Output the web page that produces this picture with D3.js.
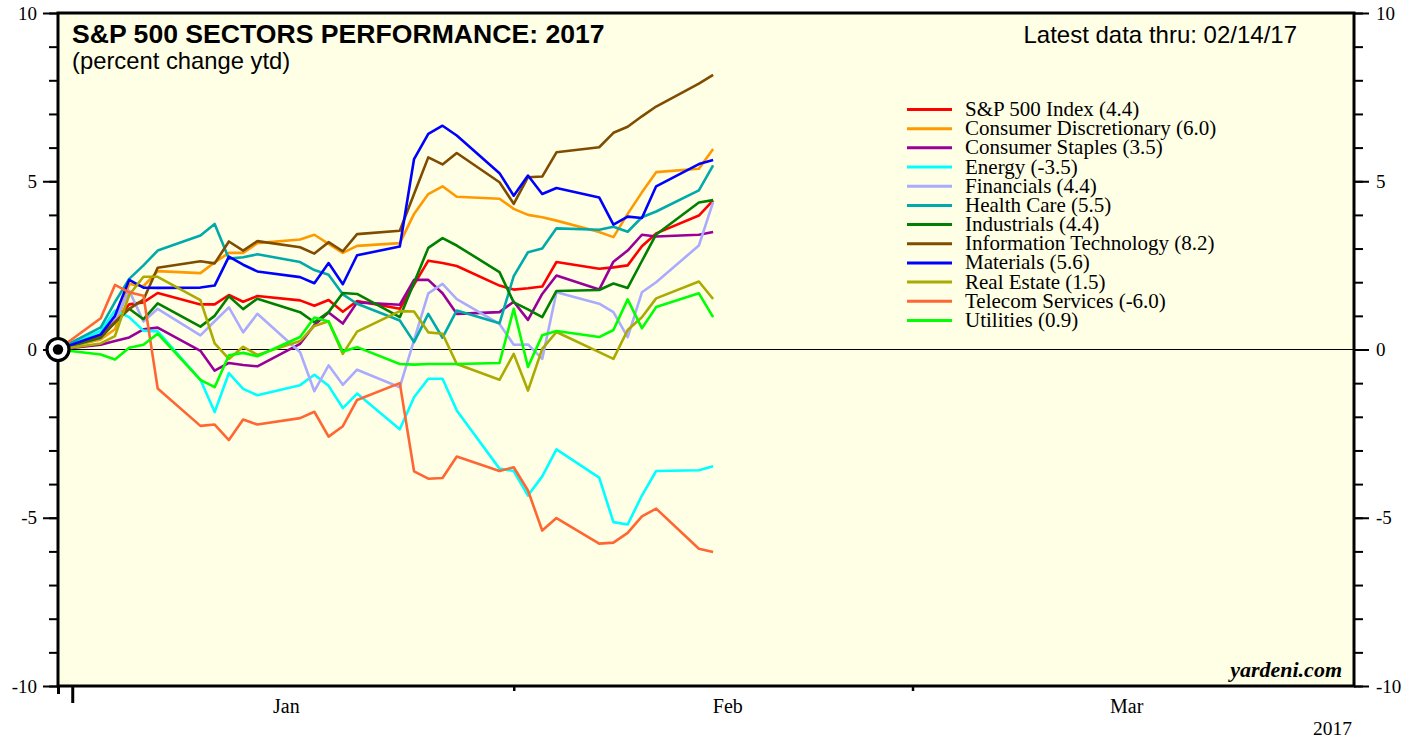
<!DOCTYPE html>
<html>
<head>
<meta charset="utf-8">
<script src="https://cdn.jsdelivr.net/npm/d3@7"></script>
<style>
  body { margin: 0; background: #ffffff; }
  svg { display: block; }
</style>
</head>
<body>
<svg id="chart" width="1419" height="740"></svg>
<script>
// ---------------- DATA ----------------
const dates = ["2016-12-30","2017-01-02","2017-01-03","2017-01-04","2017-01-05","2017-01-06",
  "2017-01-09","2017-01-10","2017-01-11","2017-01-12","2017-01-13",
  "2017-01-16","2017-01-17","2017-01-18","2017-01-19","2017-01-20",
  "2017-01-23","2017-01-24","2017-01-25","2017-01-26","2017-01-27",
  "2017-01-30","2017-01-31","2017-02-01","2017-02-02","2017-02-03",
  "2017-02-06","2017-02-07","2017-02-08","2017-02-09","2017-02-10",
  "2017-02-13","2017-02-14"];

const sp500 = [0, 0.35, 0.85, 1.34, 1.4, 1.68, 1.34, 1.34, 1.62, 1.42, 1.59, 1.46, 1.3, 1.47, 1.12, 1.44, 1.21, 1.93, 2.64, 2.57, 2.48, 1.9, 1.78, 1.82, 1.87, 2.6, 2.4, 2.44, 2.5, 3.07, 3.45, 3.98, 4.43];
const consumerDiscretionary = [0, 0.3, 0.6, 1.95, 1.88, 2.33, 2.27, 2.59, 2.87, 2.87, 3.16, 3.27, 3.41, 3.14, 2.87, 3.08, 3.16, 4.03, 4.62, 4.85, 4.54, 4.48, 4.18, 4.0, 3.93, 3.83, 3.49, 3.34, 4.03, 4.67, 5.27, 5.37, 5.96];
const consumerStaples = [0, 0.14, 0.25, 0.36, 0.6, 0.65, -0.04, -0.63, -0.4, -0.46, -0.5, 0.17, 0.73, 1.1, 0.77, 1.4, 1.33, 2.07, 2.07, 1.67, 1.06, 1.11, 1.42, 0.88, 1.65, 2.2, 1.78, 2.61, 2.94, 3.41, 3.36, 3.41, 3.49];
const energy = [0, 0.55, 1.16, 0.96, 0.56, 0.54, -0.9, -1.86, -0.7, -1.17, -1.36, -1.06, -0.75, -1.08, -1.74, -1.31, -2.37, -1.42, -0.87, -0.87, -1.81, -3.54, -3.61, -4.34, -3.77, -2.97, -3.81, -5.13, -5.2, -4.34, -3.61, -3.59, -3.47];
const financials = [0, 0.35, 0.86, 1.75, 0.83, 1.21, 0.42, 0.84, 1.25, 0.51, 1.06, -0.08, -1.24, -0.47, -1.05, -0.6, -1.12, 0.28, 1.67, 1.95, 1.5, 0.76, 0.14, 0.15, -0.28, 1.7, 1.36, 1.11, 0.37, 1.7, 2.0, 3.09, 4.38];
const healthCare = [0, 0.66, 1.41, 2.1, 2.5, 2.94, 3.39, 3.73, 2.7, 2.74, 2.83, 2.6, 2.36, 2.22, 1.64, 1.36, 0.86, 0.22, 1.06, 0.35, 1.16, 0.78, 2.18, 2.89, 3.0, 3.6, 3.56, 3.65, 3.5, 3.93, 4.1, 4.73, 5.47];
const industrials = [0, 0.35, 0.8, 1.21, 0.9, 1.37, 0.68, 1.0, 1.58, 1.2, 1.51, 1.11, 0.81, 1.11, 1.68, 1.65, 0.96, 1.98, 3.02, 3.31, 3.09, 2.3, 1.4, 1.19, 0.96, 1.74, 1.77, 1.96, 1.83, 2.63, 3.42, 4.37, 4.44];
const infoTech = [0, 0.4, 0.82, 1.21, 1.48, 2.43, 2.62, 2.56, 3.21, 2.94, 3.22, 3.04, 2.85, 3.19, 2.92, 3.43, 3.53, 4.62, 5.71, 5.5, 5.84, 4.97, 4.33, 5.12, 5.14, 5.86, 6.01, 6.44, 6.62, 6.93, 7.22, 7.9, 8.16];
const materials = [0, 0.45, 1.0, 2.07, 1.84, 1.83, 1.84, 1.9, 2.76, 2.52, 2.32, 2.15, 1.97, 2.57, 1.94, 2.8, 3.06, 5.66, 6.41, 6.65, 6.36, 5.24, 4.57, 5.17, 4.62, 4.8, 4.52, 3.71, 3.95, 3.91, 4.85, 5.51, 5.63];
const realEstate = [0, 0.18, 0.4, 1.62, 2.16, 2.16, 1.47, 0.18, -0.28, 0.08, -0.16, 0.25, 0.7, 0.84, -0.13, 0.53, 1.14, 1.13, 0.51, 0.47, -0.43, -0.9, -0.13, -1.22, 0.02, 0.52, -0.08, -0.28, 0.58, 0.96, 1.52, 2.02, 1.5];
const telecom = [0, 0.93, 1.92, 1.7, 1.6, -1.16, -2.27, -2.23, -2.69, -2.08, -2.23, -2.04, -1.85, -2.59, -2.28, -1.5, -1.0, -3.62, -3.84, -3.82, -3.18, -3.61, -3.5, -4.19, -5.38, -5.01, -5.77, -5.74, -5.45, -4.96, -4.73, -5.92, -6.02];
const utilities = [0, -0.15, -0.3, 0.05, 0.14, 0.47, -0.9, -1.12, -0.17, -0.1, -0.2, 0.37, 0.95, 0.83, -0.06, 0.07, -0.43, -0.45, -0.43, -0.43, -0.43, -0.4, 1.21, -0.52, 0.42, 0.55, 0.37, 0.58, 1.49, 0.63, 1.26, 1.67, 0.96];

const legendLabels = ["S&P 500 Index (4.4)", "Consumer Discretionary (6.0)", "Consumer Staples (3.5)",
  "Energy (-3.5)", "Financials (4.4)", "Health Care (5.5)", "Industrials (4.4)",
  "Information Technology (8.2)", "Materials (5.6)", "Real Estate (1.5)",
  "Telecom Services (-6.0)", "Utilities (0.9)"];
const seriesValues = [sp500, consumerDiscretionary, consumerStaples, energy, financials, healthCare,
  industrials, infoTech, materials, realEstate, telecom, utilities];

const yMajorTicks = [-10, -5, 0, 5, 10];
const monthLabels = ["Jan", "Feb", "Mar"];
const monthLabelDates = ["2017-01-15", "2017-02-15", "2017-03-15"];
const monthTickDates = ["2017-01-31", "2017-02-28"];
const yearTickDate = "2016-12-31";
const domainDates = ["2016-12-30", "2017-03-31"];

// ---------------- STYLE ----------------
const colors = ["#ff0000", "#ff9900", "#990099", "#00ffff", "#aaaaff", "#00aaaa",
  "#008000", "#7f4c00", "#0000ff", "#aaaa00", "#ff6633", "#00ff00"];

const L = 58, R = 1354, T = 13, B = 686;
const serif = "'Liberation Serif','Times New Roman',Times,serif";
const sans = "'Liberation Sans',Arial,Helvetica,sans-serif";

const parse = d3.utcParse("%Y-%m-%d");
const dts = dates.map(parse);

const svg = d3.select("#chart");

const x = d3.scaleUtc().domain(domainDates.map(parse)).range([L, R]);
const y = d3.scaleLinear().domain([-10, 10]).range([B, T]);

// plot background
svg.append("rect").attr("x", L).attr("y", T).attr("width", R - L).attr("height", B - T)
  .attr("fill", "#ffffe6");

// zero line
svg.append("line").attr("x1", L).attr("x2", R).attr("y1", y(0)).attr("y2", y(0))
  .attr("stroke", "#000").attr("stroke-width", 1.2);

// series lines
const line = d3.line().x((d, i) => x(dts[i])).y(d => y(d));
seriesValues.forEach((vals, k) => {
  svg.append("path").attr("d", line(vals)).attr("fill", "none")
    .attr("stroke", colors[k]).attr("stroke-width", 2.6)
    .attr("stroke-linejoin", "round");
});

// frame
svg.append("rect").attr("x", L).attr("y", T).attr("width", R - L).attr("height", B - T)
  .attr("fill", "none").attr("stroke", "#000").attr("stroke-width", 3);

// y axes
function styleAxis(g, sw) {
  g.select(".domain").remove();
  g.selectAll(".tick line").attr("stroke", "#000").attr("stroke-width", sw);
  g.selectAll("text").attr("font-family", serif).attr("font-size", 19).attr("fill", "#000");
}
svg.append("g").attr("transform", `translate(${L},0)`)
  .call(d3.axisLeft(y).tickValues(d3.range(-10, 11)).tickSize(9).tickFormat(""))
  .call(g => styleAxis(g, 2));
svg.append("g").attr("transform", `translate(${L},0)`)
  .call(d3.axisLeft(y).tickValues(yMajorTicks).tickSize(15).tickPadding(6).tickFormat(d => String(d)))
  .call(g => styleAxis(g, 2));
svg.append("g").attr("transform", `translate(${R},0)`)
  .call(d3.axisRight(y).tickValues(d3.range(-10, 11)).tickSize(9).tickFormat(""))
  .call(g => styleAxis(g, 2));
svg.append("g").attr("transform", `translate(${R},0)`)
  .call(d3.axisRight(y).tickValues(yMajorTicks).tickSize(15).tickPadding(7).tickFormat(d => String(d)))
  .call(g => styleAxis(g, 2));

// x axis
svg.append("g").attr("transform", `translate(0,${B})`)
  .call(d3.axisBottom(x).tickValues([parse(domainDates[0])]).tickSize(8).tickFormat(""))
  .call(g => styleAxis(g, 3));
svg.append("g").attr("transform", `translate(0,${B})`)
  .call(d3.axisBottom(x).tickValues([parse(yearTickDate)]).tickSize(17).tickFormat(""))
  .call(g => styleAxis(g, 3));
svg.append("g").attr("transform", `translate(0,${B})`)
  .call(d3.axisBottom(x).tickValues(monthTickDates.map(parse)).tickSize(5).tickFormat(""))
  .call(g => styleAxis(g, 2.5));
svg.append("g").attr("transform", `translate(0,${B})`)
  .call(d3.axisBottom(x).tickValues(monthLabelDates.map(parse)).tickSize(0).tickPadding(13)
    .tickFormat((d, i) => monthLabels[i]))
  .call(g => styleAxis(g, 0))
  .call(g => g.selectAll("text").attr("font-size", 20));

svg.append("text").attr("x", 1352).attr("y", 735).attr("text-anchor", "end")
  .attr("font-family", serif).attr("font-size", 19.5).text("2017");

// origin marker
const o = svg.append("g").attr("transform", `translate(${x(dts[0])},${y(0)})`);
o.append("circle").attr("r", 11).attr("fill", "#fff").attr("stroke", "#000").attr("stroke-width", 3.2);
o.append("circle").attr("r", 5.2).attr("fill", "#000");

// titles
svg.append("text").attr("x", 72).attr("y", 43).attr("font-family", sans).attr("font-weight", "bold")
  .attr("font-size", 26.6).text("S&P 500 SECTORS PERFORMANCE: 2017");
svg.append("text").attr("x", 72).attr("y", 69).attr("font-family", sans)
  .attr("font-size", 23.8).text("(percent change ytd)");
svg.append("text").attr("x", 1297).attr("y", 43).attr("text-anchor", "end").attr("font-family", sans)
  .attr("font-size", 24).text("Latest data thru: 02/14/17");

// legend
const lg = svg.append("g");
legendLabels.forEach((lab, k) => {
  const ly = 109.5 + k * 19.18;
  lg.append("line").attr("x1", 907).attr("x2", 952).attr("y1", ly).attr("y2", ly)
    .attr("stroke", colors[k]).attr("stroke-width", 3);
  lg.append("text").attr("x", 965).attr("y", ly + 6.5).attr("font-family", serif)
    .attr("font-size", 21).text(lab);
});

// source
svg.append("text").attr("x", 1342).attr("y", 677).attr("text-anchor", "end")
  .attr("font-family", serif).attr("font-style", "italic").attr("font-weight", "bold")
  .attr("font-size", 22).text("yardeni.com");
</script>
</body>
</html>
